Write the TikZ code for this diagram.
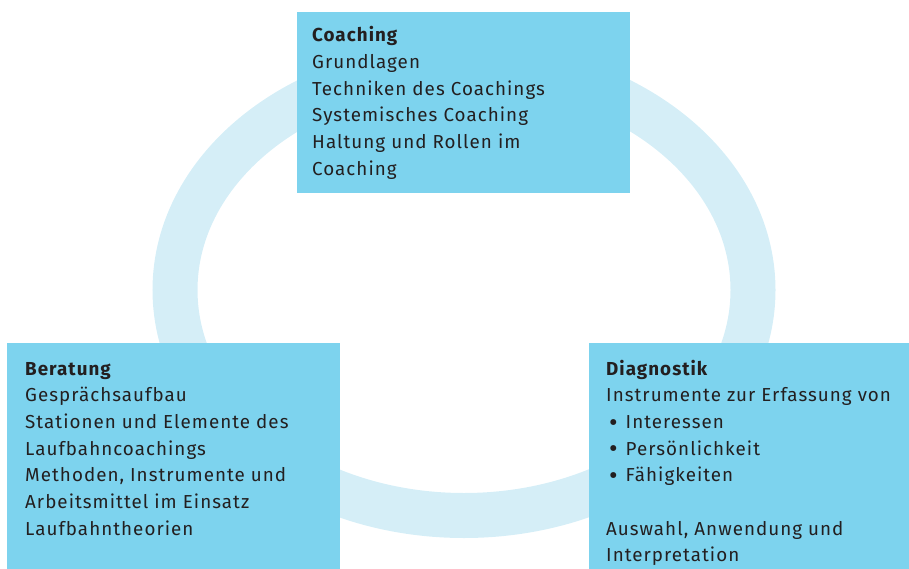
\documentclass[tikz,border=0pt]{standalone}
\usepackage{fontspec}
\usepackage{graphicx}
\setmainfont[LetterSpace=5.5]{Fira Sans}
\definecolor{ringblue}{HTML}{D5EEF7}
\definecolor{boxblue}{HTML}{7DD3EE}
\definecolor{ink}{HTML}{231F20}
\newcommand\txtblock[1]{\vtop{\baselineskip=26.7pt\lineskiplimit=-20pt\halign{##\hfil\cr#1\crcr}}}
\newcommand\bulletitem[1]{\hspace*{3pt}\raisebox{-2.6pt}{\scalebox{1.4}{•}}\hspace{8pt}#1}
\begin{document}
\begin{tikzpicture}[x=1pt,y=-1pt,
  panel/.style={fill=boxblue,draw=none,inner sep=0pt,anchor=north west},
  body/.style={anchor=base west,inner sep=0pt,text=ink,
    font=\fontsize{18.8}{26.7}\selectfont}]
\useasboundingbox (0,0) rectangle (909,569);
\draw[ringblue,line width=45pt] (464,290) ellipse [x radius=289, y radius=225.5];
\node[panel,minimum width=333pt,minimum height=181pt] (coach) at (297,12) {};
\node[panel,minimum width=333pt,minimum height=226pt] (berat) at (7,343) {};
\node[panel,minimum width=320pt,minimum height=226pt] (diag) at (589,343) {};
\node[body] (coachtext) at (312,41.7) {\txtblock{\textbf{Coaching}\cr Grundlagen\cr Techniken des Coachings\cr Systemisches Coaching\cr Haltung und Rollen im\cr Coaching}};
\node[body] (berattext) at (25,375) {\txtblock{\textbf{Beratung}\cr Gesprächsaufbau\cr Stationen und Elemente des\cr Laufbahncoachings\cr Methoden, Instrumente und\cr Arbeitsmittel im Einsatz\cr Laufbahntheorien}};
\node[body] (diagtext) at (606,375) {\txtblock{\textbf{Diagnostik}\cr Instrumente zur Erfassung von\cr \bulletitem{Interessen}\cr \bulletitem{Persönlichkeit}\cr \bulletitem{Fähigkeiten}\cr \cr Auswahl, Anwendung und\cr Interpretation}};
\end{tikzpicture}
\end{document}
